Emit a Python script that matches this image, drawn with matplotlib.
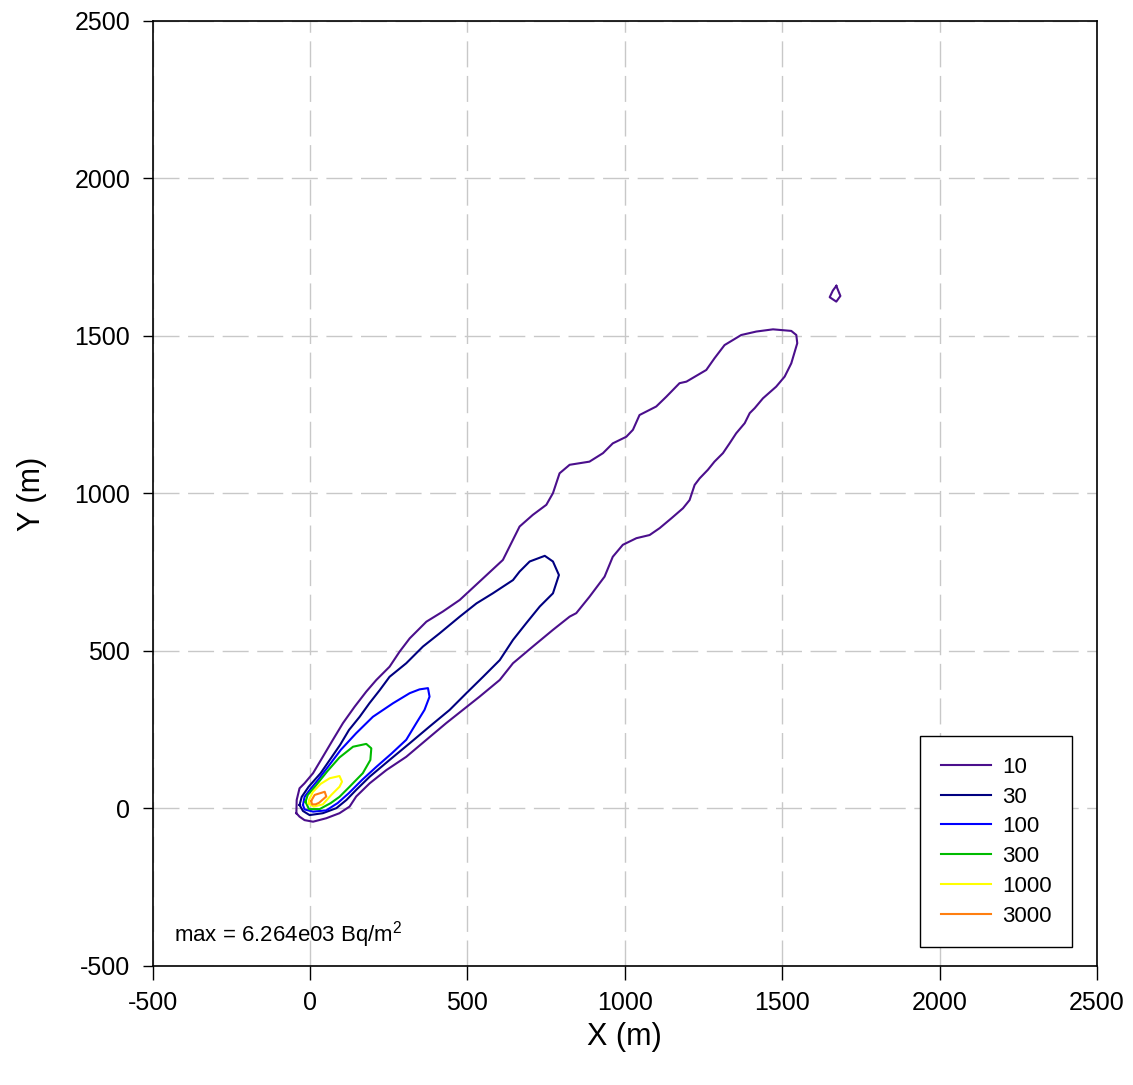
import matplotlib
matplotlib.use("Agg")
import matplotlib.pyplot as plt

plt.rcParams["font.family"] = ["Liberation Sans", "DejaVu Sans"]
plt.rcParams["mathtext.fontset"] = "custom"
plt.rcParams["mathtext.rm"] = "Liberation Sans"
plt.rcParams["axes.unicode_minus"] = False
plt.rcParams["lines.scale_dashes"] = False

# deposition contour levels (Bq/m2) and their line colours
levels = [10, 30, 100, 300, 1000, 3000]
colors = ["#4b0f8c", "#000080", "#0000ff", "#00bb00", "#ffff00", "#ff7f10"]

# traced contour outlines as (x, y) in metres
c10 = [(-43, -15), (-42, 27), (-33, 64), (-17, 80), (10, 112), (41, 164), (73, 218),
       (105, 271), (142, 323), (179, 371), (211, 408), (253, 450), (285, 498),
       (317, 540), (370, 593), (422, 625), (476, 662), (544, 725), (613, 789),
       (634, 831), (666, 895), (708, 932), (751, 964), (772, 1001), (793, 1064),
       (825, 1091), (888, 1101), (931, 1128), (962, 1159), (1005, 1180),
       (1026, 1202), (1047, 1249), (1100, 1276), (1132, 1307), (1174, 1350),
       (1196, 1355), (1259, 1392), (1285, 1429), (1317, 1471), (1370, 1503),
       (1418, 1514), (1471, 1521), (1529, 1516), (1545, 1503), (1548, 1477),
       (1529, 1413), (1508, 1371), (1481, 1339), (1439, 1302), (1413, 1271),
       (1397, 1255), (1381, 1223), (1354, 1191), (1333, 1159), (1312, 1128),
       (1285, 1101), (1264, 1075), (1238, 1048), (1222, 1027), (1206, 979),
       (1185, 953), (1148, 921), (1111, 890), (1079, 868), (1037, 858), (994, 837),
       (962, 799), (936, 736), (888, 672), (846, 620), (825, 609), (772, 567),
       (708, 514), (645, 461), (603, 408), (539, 355), (486, 313), (433, 271),
       (370, 218), (306, 164), (243, 122), (190, 80), (147, 38), (126, 6),
       (94, -15), (52, -31), (10, -42), (-17, -37), (-33, -26), (-43, -15)]
c10_island = [(1672, 1659), (1685, 1627), (1672, 1609), (1651, 1623), (1661, 1644),
              (1672, 1659)]

c30 = [(-33, 11), (-26, 37), (-4, 69), (34, 112), (63, 154), (96, 202), (124, 249),
       (158, 291), (189, 334), (222, 376), (253, 418), (306, 461), (359, 514),
       (412, 556), (476, 609), (529, 651), (581, 683), (645, 725), (666, 752),
       (698, 784), (746, 802), (772, 784), (791, 741), (772, 683), (730, 641),
       (687, 588), (645, 535), (603, 471), (550, 418), (497, 366), (444, 313),
       (380, 260), (317, 207), (253, 154), (190, 101), (147, 59), (116, 27),
       (84, 1), (41, -15), (-1, -21), (-22, -8), (-33, 11)]

c100 = [(-22, 11), (-17, 37), (2, 62), (26, 91), (58, 133), (98, 186), (147, 239),
        (200, 291), (264, 334), (317, 366), (348, 378), (375, 382), (380, 355),
        (364, 313), (338, 271), (306, 218), (260, 175), (212, 133), (166, 91),
        (123, 48), (88, 17), (52, -6), (10, -10), (-17, -3), (-22, 11)]

c300 = [(-14, 21), (-7, 43), (15, 68), (56, 119), (94, 162), (137, 196), (179, 205),
        (195, 191), (192, 154), (168, 112), (126, 69), (94, 37), (66, 17),
        (31, -2), (-3, -2), (-14, 21)]

c1000 = [(-4, 16), (-3, 27), (9, 52), (34, 78), (63, 96), (94, 103), (102, 85),
         (94, 69), (68, 43), (41, 13), (12, 6), (-4, 16)]

c3000 = [(4, 24), (15, 43), (47, 53), (52, 38), (29, 18), (18, 13), (7, 13), (4, 24)]

max_value = 6.264e03

fig = plt.figure(figsize=(11.33, 10.85), dpi=100)
ax = fig.add_axes([0.1346, 0.1097, 0.8336, 0.8710])

outlines = [[c10, c10_island], [c30], [c100], [c300], [c1000], [c3000]]
for lev, col, parts in zip(levels, colors, outlines):
    for i, pts in enumerate(parts):
        xs = [p[0] for p in pts]
        ys = [p[1] for p in pts]
        ax.plot(xs, ys, color=col, lw=1.5, solid_joinstyle="round",
                label=str(lev) if i == 0 else None, zorder=3)

ax.set_xlim(-500, 2500)
ax.set_ylim(-500, 2500)
ticks = [-500, 0, 500, 1000, 1500, 2000, 2500]
ax.set_xticks(ticks)
ax.set_yticks(ticks)
ax.tick_params(axis="x", length=10, width=1, pad=8, labelsize=18, direction="out")
ax.tick_params(axis="y", length=7, width=1, pad=9, labelsize=18, direction="out")
for sp in ax.spines.values():
    sp.set_linewidth(1.2)

ax.set_axisbelow(True)
ax.grid(True, color="#c8c8c8", lw=1.0, linestyle=(0, (18.7, 6.2)))

ax.set_xlabel("X (m)", fontsize=22)
ax.set_ylabel("Y (m)", fontsize=22)
ax.xaxis.set_label_coords(0.5, -0.075)
ax.xaxis.label.set_va("center")
ax.yaxis.set_label_coords(-0.1276, 0.5)
ax.yaxis.label.set_va("center")

ax.text(0.0228, 0.033, f"max = {max_value:.3e}".replace("e+", "e") + r" Bq/m$^{2}$",
        transform=ax.transAxes, fontsize=16, ha="left", va="center")

leg = ax.legend(loc="lower right", bbox_to_anchor=(0.9735, 0.0201),
                borderaxespad=0, fontsize=16, handlelength=2.25,
                handletextpad=0.5, labelspacing=0.394, borderpad=0.92,
                fancybox=False, framealpha=1, edgecolor="black")
leg.get_frame().set_linewidth(1.0)

fig.savefig("out.png", dpi=100)
